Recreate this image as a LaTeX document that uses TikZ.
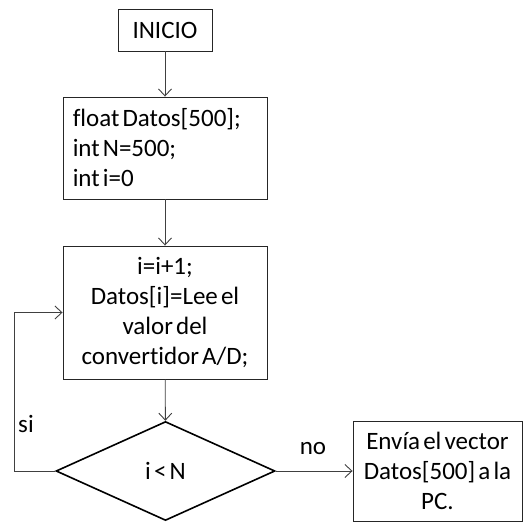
\documentclass[tikz,border=0pt]{standalone}
\usepackage{fontspec}
\setmainfont{Carlito}[Ligatures=CommonOff, WordSpace=0.55]
\usetikzlibrary{arrows.meta,shapes.geometric}
\definecolor{linegray}{HTML}{404040}
\tikzset{
  txt/.style={font=\fontsize{25}{30}\selectfont},
  box/.style={draw=black!85, line width=0.9pt, rectangle, inner sep=0pt, txt, align=center},
  decision/.style={draw=black, line width=1.6pt, diamond, inner sep=0pt, txt},
  flow/.style={draw=linegray, line width=0.9pt, -{Straight Barb[length=7pt,width=13pt]}},
  lbl/.style={txt, inner sep=0pt}
}
\begin{document}
\begin{tikzpicture}[x=1pt,y=-1pt]
  \useasboundingbox (0,0) rectangle (527,522);
  \node[box, minimum width=94pt, minimum height=42pt] (inicio) at (165,30) {INICIO};
  \node[box, minimum width=204pt, minimum height=102pt] (decl) at (165,148) {};
  \node[lbl, align=left, anchor=west] (declcode) at ([xshift=10pt]decl.west)
    {float Datos[500];\\int N=500;\\int i=0};
  \node[box, minimum width=204pt, minimum height=133pt] (lee) at (165,312.5)
    {i=i+1;\\Datos[i]=Lee el\\valor del\\convertidor A/D;};
  \node[decision, minimum width=219pt, minimum height=99pt, aspect=2.2] (cond) at (165.5,471) {i < N};
  \node[box, minimum width=169pt, minimum height=100pt] (envia) at (437.5,471)
    {Envía el vector\\Datos[500] a la\\PC.};
  \coordinate (lb) at (14,471);
  \coordinate (lt) at (14,312.5);
  \draw[flow] (inicio) -- (decl);
  \draw[flow] (decl) -- (lee);
  \draw[flow] (lee) -- (cond);
  \draw[flow] (cond.east) -- (envia.west);
  \draw[flow] (cond.west) -- (lb) -- (lt) -- (lee.west);
  \node[lbl] (si) at (26,424) {si};
  \node[lbl] (no) at (313,449) {no};
\end{tikzpicture}
\end{document}
